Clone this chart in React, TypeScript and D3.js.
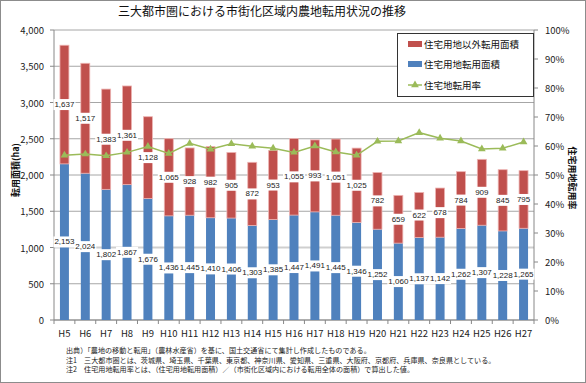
import React from "react";
import * as d3 from "d3";

const categories = ["H5","H6","H7","H8","H9","H10","H11","H12","H13","H14","H15","H16","H17","H18","H19","H20","H21","H22","H23","H24","H25","H26","H27"];
const housingArea = [2153,2024,1802,1867,1676,1436,1445,1410,1406,1303,1385,1447,1491,1445,1346,1252,1060,1137,1142,1262,1307,1228,1265];
const otherArea = [1637,1517,1383,1361,1128,1065,928,982,905,872,953,1055,993,1051,1025,782,659,622,678,784,909,845,795];
const housingRate = [56.8,57.2,56.6,57.8,59.8,57.4,60.9,58.9,60.8,59.9,59.2,57.8,60.0,57.9,56.8,61.6,61.7,64.6,62.7,61.7,59.0,59.2,61.4];
const leftTicks = [0,500,1000,1500,2000,2500,3000,3500,4000];
const rightTicks = [0,10,20,30,40,50,60,70,80,90,100];
const title = "三大都市圏における市街化区域内農地転用状況の推移";
const legendLabels = ["住宅用地以外転用面積","住宅用地転用面積","住宅地転用率"];
const notes = [
  "出典）「農地の移動と転用」（農林水産省）を基に、国土交通省にて集計し作成したものである。",
  "注1　三大都市圏とは、茨城県、埼玉県、千葉県、東京都、神奈川県、愛知県、三重県、大阪府、京都府、兵庫県、奈良県としている。",
  "注2　住宅用地転用率とは、（住宅用地転用面積）／（市街化区域内における転用全体の面積）で算出した値。",
];

const W = 586, H = 383;
const PL = 54, PR = 534, PT = 30, PB = 320;
const FONT = "'Noto Sans CJK JP', 'Noto Sans', sans-serif";
const NUMFONT = "'Liberation Sans', Arial, sans-serif";
const RED = "#C0504D", BLUE = "#4F81BD", GREEN = "#9BBB59";
const fmt = d3.format(",");

function labelWidth(text: string) {
  const digits = text.replace(/,/g, "").length;
  const commas = text.length - digits;
  return digits * 4.45 + commas * 2.2 + 2;
}

export default function App() {
  const x = d3.scaleBand<string>().domain(categories).range([PL, PR]).paddingInner(0.57).paddingOuter(0.285);
  const xb = d3.scaleBand<string>().domain(categories).range([PL, PR]);
  const y = d3.scaleLinear().domain([0, 4000]).range([PB, PT]);
  const yr = d3.scaleLinear().domain([0, 100]).range([PB, PT]);
  const cxOf = (c: string) => (xb(c) as number) + xb.bandwidth() / 2;
  const line = d3.line<number>().x((_, i) => cxOf(categories[i])).y((d) => yr(d));
  const tri = d3.symbol().type(d3.symbolTriangle).size(26)();

  const labels: { x: number; y: number; text: string }[] = [];
  categories.forEach((c, i) => {
    const h = housingArea[i], o = otherArea[i];
    labels.push({ x: cxOf(c), y: y(h / 2), text: fmt(h) });
    labels.push({ x: cxOf(c), y: y(h + o / 2), text: fmt(o) });
  });

  return (
    <div style={{ position: "absolute", left: 0, top: 0 }}>
      <svg width={W} height={H} style={{ display: "block", fontFamily: FONT }}>
        <rect x={0.5} y={0.5} width={W - 1} height={H - 1} fill="#fff" stroke="#8c8c8c" />
        <text x={262} y={16} textAnchor="middle" fontSize={12} fill="#111">{title}</text>

        {leftTicks.map((t) => (
          <g key={t}>
            <line x1={PL} x2={PR} y1={y(t)} y2={y(t)} stroke={t === 1000 ? "#cfcfcf" : "#a6a6a6"} strokeWidth={t === 1000 ? 2 : 1} />
            <line x1={PL - 4} x2={PL} y1={y(t)} y2={y(t)} stroke="#888" />
            <text x={44} y={y(t)} textAnchor="end" dominantBaseline="central" fontSize={9.5} fill="#222">{fmt(t)}</text>
          </g>
        ))}
        {rightTicks.map((t) => (
          <g key={t}>
            <line x1={PR} x2={PR + 4} y1={yr(t)} y2={yr(t)} stroke="#888" />
            <text x={545} y={yr(t)} dominantBaseline="central" fontSize={9.5} fill="#222">{t}%</text>
          </g>
        ))}
        <line x1={PL} x2={PL} y1={PT} y2={PB} stroke="#888" />
        <line x1={PR} x2={PR} y1={PT} y2={PB} stroke="#888" />
        <line x1={PL} x2={PR} y1={PB} y2={PB} stroke="#888" />
        {categories.map((c) => (
          <line key={c} x1={xb(c) as number} x2={xb(c) as number} y1={PB} y2={PB + 4} stroke="#888" />
        ))}
        <line x1={PR} x2={PR} y1={PB} y2={PB + 4} stroke="#888" />
        {categories.map((c) => (
          <text key={c} x={cxOf(c)} y={333} textAnchor="middle" dominantBaseline="central" fontSize={9.5} fill="#222">{c}</text>
        ))}

        {categories.map((c, i) => {
          const bx = x(c) as number;
          const bw = x.bandwidth();
          const h = housingArea[i], o = otherArea[i];
          return (
            <g key={c}>
              <rect x={bx} y={y(h)} width={bw} height={y(0) - y(h)} fill={BLUE} />
              <rect x={bx} y={y(h + o)} width={bw} height={y(h) - y(h + o)} fill={RED} stroke="#EDB3B2" strokeWidth={0.8} />
            </g>
          );
        })}

        <path d={line(housingRate) as string} fill="none" stroke={GREEN} strokeWidth={1.5} />
        {housingRate.map((r, i) => (
          <path key={i} d={tri as string} fill={GREEN} transform={`translate(${cxOf(categories[i])},${yr(r)})`} />
        ))}

        {labels.map((l, i) => {
          const w = labelWidth(l.text);
          return <rect key={"b" + i} x={l.x - w / 2} y={l.y - 5.5} width={w} height={11} fill="#fff" />;
        })}
        {labels.map((l, i) => (
          <text key={"t" + i} x={l.x} y={l.y} textAnchor="middle" dominantBaseline="central" fontSize={8} fontFamily={NUMFONT} fill="#222">{l.text}</text>
        ))}

        <text transform={`translate(15,170) rotate(-90)`} textAnchor="middle" dominantBaseline="central" fontSize={9} fontWeight="bold" fill="#111">転用面積(ha)</text>
        <text transform={`translate(572,178) rotate(90)`} textAnchor="middle" dominantBaseline="central" fontSize={9} fontWeight="bold" fill="#111">住宅用地転用率</text>

        <rect x={397.5} y={33.5} width={136} height={63} fill="#fff" stroke="#333" />
        <rect x={408} y={41} width={14} height={6} fill={RED} />
        <text x={424} y={44} dominantBaseline="central" fontSize={9.5} fill="#111">{legendLabels[0]}</text>
        <rect x={408} y={61} width={14} height={6} fill={BLUE} />
        <text x={424} y={64} dominantBaseline="central" fontSize={9.5} fill="#111">{legendLabels[1]}</text>
        <line x1={408} x2={422} y1={85} y2={85} stroke={GREEN} strokeWidth={1.5} />
        <path d={tri as string} fill={GREEN} transform="translate(415,85)" />
        <text x={424} y={85} dominantBaseline="central" fontSize={9.5} fill="#111">{legendLabels[2]}</text>

        {notes.map((n, i) => (
          <text key={i} x={66} y={350 + i * 9.5} dominantBaseline="central" fontSize={7.1} fill="#222">{n}</text>
        ))}
      </svg>
    </div>
  );
}
